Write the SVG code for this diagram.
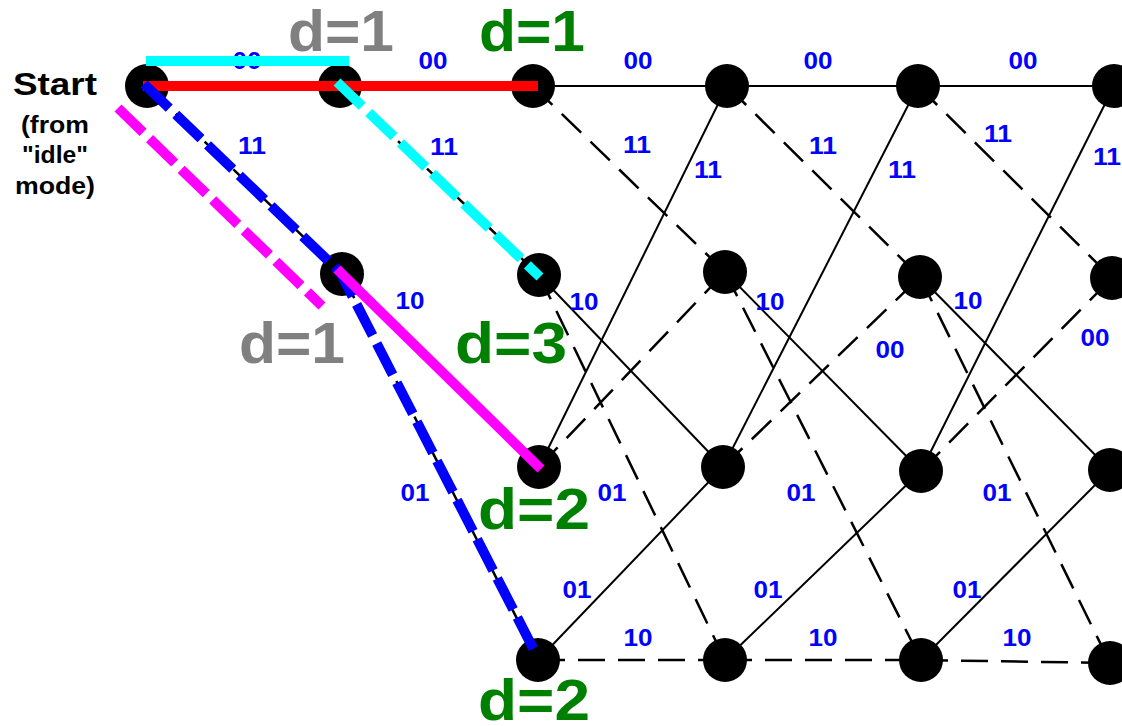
<svg xmlns="http://www.w3.org/2000/svg" width="1122" height="726" viewBox="0 0 1122 726">
<style>
.s{stroke:#000;stroke-width:2;fill:none}
.d{stroke:#000;stroke-width:2.5;fill:none;stroke-dasharray:27 13}
.n{fill:#000}
.lb{font-family:"Liberation Sans",Arial,sans-serif;font-weight:bold;font-size:23px;fill:#0000ff;text-anchor:middle}
.big{font-family:"Liberation Sans",Arial,sans-serif;font-weight:bold;font-size:58px}
.g{fill:#808080}
.gr{fill:#008000}
.st{font-family:"Liberation Sans",Arial,sans-serif;font-weight:bold;fill:#000;text-anchor:middle}
.hl{fill:none;stroke-width:10;stroke-linecap:butt}
.hd{stroke-dasharray:35 9}
</style>
<rect width="1122" height="726" fill="#fff"/>
<g id="connectors">
<line class="s" x1="147" y1="86" x2="340" y2="86"/>
<line class="d" x1="147" y1="86" x2="342" y2="274"/>
<line class="s" x1="340" y1="86" x2="533" y2="86"/>
<line class="d" x1="340" y1="86" x2="539" y2="275"/>
<line class="s" x1="342" y1="274" x2="539" y2="467"/>
<line class="d" x1="342" y1="274" x2="538" y2="660"/>
<line class="s" x1="533" y1="86" x2="727" y2="86"/>
<line class="d" x1="533" y1="86" x2="725" y2="272"/>
<line class="s" x1="539" y1="275" x2="723" y2="467"/>
<line class="d" x1="539" y1="275" x2="725" y2="660"/>
<line class="s" x1="539" y1="467" x2="727" y2="86"/>
<line class="d" x1="539" y1="467" x2="725" y2="272"/>
<line class="s" x1="538" y1="660" x2="723" y2="467"/>
<line class="d" x1="538" y1="660" x2="725" y2="660"/>
<line class="s" x1="727" y1="86" x2="918" y2="86"/>
<line class="d" x1="727" y1="86" x2="920" y2="277"/>
<line class="s" x1="725" y1="272" x2="921" y2="471"/>
<line class="d" x1="725" y1="272" x2="921" y2="660"/>
<line class="s" x1="723" y1="467" x2="918" y2="86"/>
<line class="d" x1="723" y1="467" x2="920" y2="277"/>
<line class="s" x1="725" y1="660" x2="921" y2="471"/>
<line class="d" x1="725" y1="660" x2="921" y2="660"/>
<line class="s" x1="918" y1="86" x2="1114" y2="86"/>
<line class="d" x1="918" y1="86" x2="1112" y2="278"/>
<line class="s" x1="920" y1="277" x2="1110" y2="470"/>
<line class="d" x1="920" y1="277" x2="1110" y2="663"/>
<line class="s" x1="921" y1="471" x2="1114" y2="86"/>
<line class="d" x1="921" y1="471" x2="1112" y2="278"/>
<line class="s" x1="921" y1="660" x2="1110" y2="470"/>
<line class="d" x1="921" y1="660" x2="1110" y2="663"/>
</g>
<g id="node-start"><circle class="n" cx="147" cy="86" r="22"/></g>
<g id="node-1-0"><circle class="n" cx="340" cy="86" r="22"/></g>
<g id="node-1-1"><circle class="n" cx="342" cy="274" r="22"/></g>
<g id="node-2-0"><circle class="n" cx="533" cy="86" r="22"/></g>
<g id="node-2-1"><circle class="n" cx="539" cy="275" r="22"/></g>
<g id="node-2-2"><circle class="n" cx="539" cy="467" r="22"/></g>
<g id="node-2-3"><circle class="n" cx="538" cy="660" r="22"/></g>
<g id="node-3-0"><circle class="n" cx="727" cy="86" r="22"/></g>
<g id="node-3-1"><circle class="n" cx="725" cy="272" r="22"/></g>
<g id="node-3-2"><circle class="n" cx="723" cy="467" r="22"/></g>
<g id="node-3-3"><circle class="n" cx="725" cy="660" r="22"/></g>
<g id="node-4-0"><circle class="n" cx="918" cy="86" r="22"/></g>
<g id="node-4-1"><circle class="n" cx="920" cy="277" r="22"/></g>
<g id="node-4-2"><circle class="n" cx="921" cy="471" r="22"/></g>
<g id="node-4-3"><circle class="n" cx="921" cy="660" r="22"/></g>
<g id="node-5-0"><circle class="n" cx="1114" cy="86" r="22"/></g>
<g id="node-5-1"><circle class="n" cx="1112" cy="278" r="22"/></g>
<g id="node-5-2"><circle class="n" cx="1110" cy="470" r="22"/></g>
<g id="node-5-3"><circle class="n" cx="1110" cy="663" r="22"/></g>
<g id="edge-labels">
<text class="lb" x="247" y="69" textLength="29" lengthAdjust="spacingAndGlyphs">00</text>
<text class="lb" x="252" y="154" textLength="28" lengthAdjust="spacingAndGlyphs">11</text>
<text class="lb" x="433" y="69" textLength="29" lengthAdjust="spacingAndGlyphs">00</text>
<text class="lb" x="444" y="155" textLength="28" lengthAdjust="spacingAndGlyphs">11</text>
<text class="lb" x="410" y="309" textLength="29" lengthAdjust="spacingAndGlyphs">10</text>
<text class="lb" x="415" y="501" textLength="29" lengthAdjust="spacingAndGlyphs">01</text>
<text class="lb" x="638" y="69" textLength="29" lengthAdjust="spacingAndGlyphs">00</text>
<text class="lb" x="637" y="153" textLength="28" lengthAdjust="spacingAndGlyphs">11</text>
<text class="lb" x="708" y="178" textLength="28" lengthAdjust="spacingAndGlyphs">11</text>
<text class="lb" x="584" y="310" textLength="29" lengthAdjust="spacingAndGlyphs">10</text>
<text class="lb" x="612" y="501" textLength="29" lengthAdjust="spacingAndGlyphs">01</text>
<text class="lb" x="577" y="598" textLength="29" lengthAdjust="spacingAndGlyphs">01</text>
<text class="lb" x="638" y="646" textLength="29" lengthAdjust="spacingAndGlyphs">10</text>
<text class="lb" x="818" y="69" textLength="29" lengthAdjust="spacingAndGlyphs">00</text>
<text class="lb" x="823" y="154" textLength="28" lengthAdjust="spacingAndGlyphs">11</text>
<text class="lb" x="902" y="178" textLength="28" lengthAdjust="spacingAndGlyphs">11</text>
<text class="lb" x="770" y="310" textLength="29" lengthAdjust="spacingAndGlyphs">10</text>
<text class="lb" x="890" y="358" textLength="29" lengthAdjust="spacingAndGlyphs">00</text>
<text class="lb" x="801" y="501" textLength="29" lengthAdjust="spacingAndGlyphs">01</text>
<text class="lb" x="768" y="598" textLength="29" lengthAdjust="spacingAndGlyphs">01</text>
<text class="lb" x="823" y="646" textLength="29" lengthAdjust="spacingAndGlyphs">10</text>
<text class="lb" x="1023" y="69" textLength="29" lengthAdjust="spacingAndGlyphs">00</text>
<text class="lb" x="998" y="142" textLength="28" lengthAdjust="spacingAndGlyphs">11</text>
<text class="lb" x="1107" y="165" textLength="28" lengthAdjust="spacingAndGlyphs">11</text>
<text class="lb" x="968" y="309" textLength="29" lengthAdjust="spacingAndGlyphs">10</text>
<text class="lb" x="1095" y="346" textLength="29" lengthAdjust="spacingAndGlyphs">00</text>
<text class="lb" x="997" y="501" textLength="29" lengthAdjust="spacingAndGlyphs">01</text>
<text class="lb" x="967" y="598" textLength="29" lengthAdjust="spacingAndGlyphs">01</text>
<text class="lb" x="1017" y="646" textLength="29" lengthAdjust="spacingAndGlyphs">10</text>
</g>
<g id="paths">
<line class="hl" stroke="#ff0000" x1="143" y1="86" x2="538" y2="86"/>
<polyline class="hl hd" stroke="#0000ff" points="144,84 340,272 535,652"/>
<line class="hl" stroke="#00ffff" x1="146" y1="61" x2="349" y2="61"/>
<line class="hl hd" stroke="#00ffff" x1="337" y1="82" x2="540" y2="277"/>
<line class="hl" stroke="#ff00ff" x1="337" y1="269" x2="541" y2="469"/>
<line class="hl hd" stroke="#ff00ff" x1="118" y1="108" x2="322" y2="306"/>
</g>
<g id="start-label">
<text class="st" x="55" y="95" font-size="31" textLength="84" lengthAdjust="spacingAndGlyphs">Start</text>
<text class="st" x="55" y="133" font-size="23" textLength="68" lengthAdjust="spacingAndGlyphs">(from</text>
<text class="st" x="55" y="163" font-size="23" textLength="66" lengthAdjust="spacingAndGlyphs">"idle"</text>
<text class="st" x="55" y="194" font-size="23" textLength="80" lengthAdjust="spacingAndGlyphs">mode)</text>
</g>
<g id="distance-labels">
<text class="big g" x="288" y="51" textLength="106" lengthAdjust="spacingAndGlyphs">d=1</text>
<text class="big gr" x="479" y="51" textLength="106" lengthAdjust="spacingAndGlyphs">d=1</text>
<text class="big g" x="239" y="363" textLength="106" lengthAdjust="spacingAndGlyphs">d=1</text>
<text class="big gr" x="455" y="363" textLength="112" lengthAdjust="spacingAndGlyphs">d=3</text>
<text class="big gr" x="478" y="529" textLength="112" lengthAdjust="spacingAndGlyphs">d=2</text>
<text class="big gr" x="478" y="720" textLength="112" lengthAdjust="spacingAndGlyphs">d=2</text>
</g>
</svg>
